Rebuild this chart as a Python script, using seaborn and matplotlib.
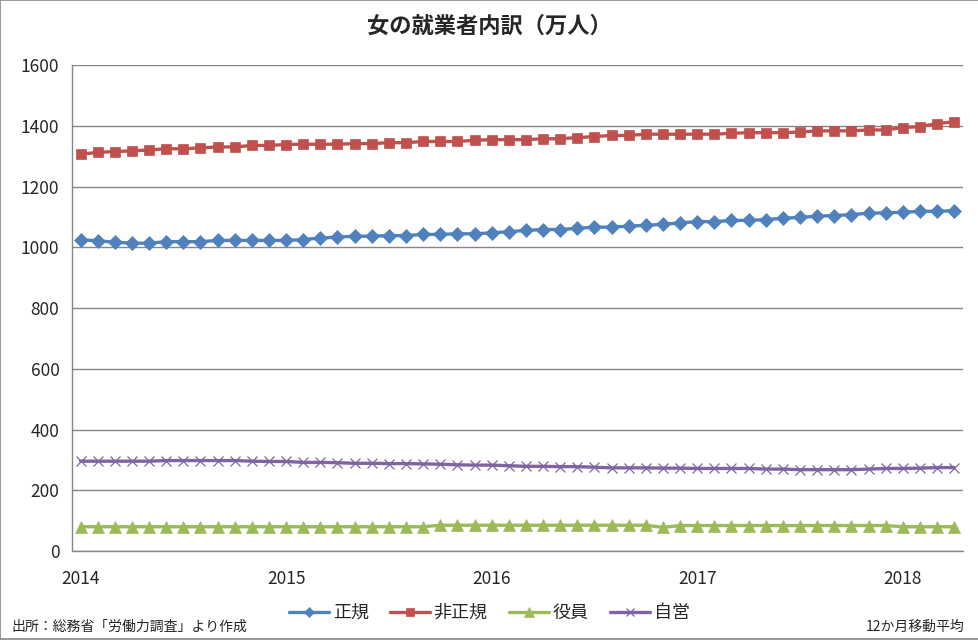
import matplotlib
matplotlib.use("Agg")
import matplotlib.pyplot as plt
import numpy as np
import pandas as pd
import seaborn as sns
from matplotlib.patches import Rectangle

sns.set_style("white")
plt.rcParams["font.family"] = ["Noto Sans CJK JP", "DejaVu Sans"]

# 2014年1月〜2018年4月 (月次, 12か月移動平均)
months = pd.date_range("2014-01", "2018-04", freq="MS")
year_labels = ["2014", "2015", "2016", "2017", "2018"]

seiki = [1025, 1022, 1017, 1014, 1014, 1019, 1019, 1019, 1023, 1023,
         1023, 1023, 1023, 1026, 1031, 1034, 1037, 1037, 1039, 1039,
         1043, 1043, 1045, 1045, 1048, 1052, 1056, 1059, 1059, 1063,
         1067, 1067, 1070, 1073, 1076, 1081, 1085, 1085, 1089, 1089,
         1092, 1096, 1099, 1103, 1105, 1108, 1113, 1114, 1116, 1119,
         1119, 1121]
hiseiki = [1307, 1313, 1316, 1318, 1321, 1325, 1325, 1328, 1331, 1331,
           1336, 1336, 1339, 1340, 1340, 1340, 1342, 1342, 1345, 1345,
           1349, 1349, 1349, 1353, 1355, 1355, 1355, 1358, 1358, 1362,
           1365, 1369, 1369, 1373, 1373, 1373, 1373, 1373, 1376, 1378,
           1378, 1378, 1380, 1384, 1384, 1384, 1387, 1387, 1395, 1398,
           1408, 1414]
yakuin = [80, 80, 80, 80, 80, 80, 80, 80, 80, 80,
          80, 80, 80, 80, 80, 80, 80, 80, 80, 80,
          80, 85, 85, 85, 85, 85, 85, 85, 85, 85,
          85, 85, 85, 85, 78, 84, 84, 84, 84, 84,
          84, 84, 84, 84, 84, 84, 84, 84, 80, 80,
          80, 80]
jiei = [296, 296, 296, 296, 296, 298, 298, 298, 298, 298,
        296, 295, 295, 292, 292, 291, 289, 289, 288, 288,
        287, 286, 284, 283, 283, 281, 279, 279, 278, 278,
        276, 274, 274, 274, 273, 273, 272, 272, 272, 272,
        270, 270, 268, 268, 268, 268, 270, 272, 272, 273,
        275, 275]

series = [
    ("正規", seiki, "#4F81BD", "D", 7),
    ("非正規", hiseiki, "#C0504D", "s", 7.5),
    ("役員", yakuin, "#9BBB59", "^", 9),
    ("自営", jiei, "#8064A2", "x", 7.5),
]

# カテゴリ軸: 各月をセルの中央に置く
pos = np.arange(len(months)) + 0.5

fig = plt.figure(figsize=(9.79, 6.4), dpi=100)
ax = fig.add_axes([0.0735, 0.139, 0.9099, 0.759])

for name, vals, color, mk, ms in series:
    sns.lineplot(x=pos, y=vals, ax=ax, color=color, linewidth=2.4,
                 marker=mk, markersize=ms, markeredgecolor=color,
                 markeredgewidth=0.9 if mk == "x" else 0.5,
                 label=name, legend=False)

ax.set_xlim(0, len(months))
ax.set_ylim(0, 1600)
ax.set_yticks(np.arange(0, 1601, 200))
ax.grid(axis="y", color="#868686", linewidth=1)
ax.set_axisbelow(True)

# 年の区切り目盛と年ラベル
ax.set_xticks(np.arange(0, len(months), 12))
ax.set_xticklabels([])
ax.set_xticks(np.arange(0, len(months), 12) + 0.5, minor=True)
ax.set_xticklabels(year_labels, minor=True)
ax.tick_params(axis="x", which="major", length=6, color="#868686", direction="out")
ax.tick_params(axis="x", which="minor", length=0, pad=14, labelsize=12.5)
ax.tick_params(axis="y", length=4, color="#868686", labelsize=12.5, pad=5)

for side in ["top", "right"]:
    ax.spines[side].set_visible(False)
for side in ["left", "bottom"]:
    ax.spines[side].set_color("#868686")
    ax.spines[side].set_linewidth(1)

fig.suptitle("女の就業者内訳（万人）", y=0.977, fontsize=16, fontweight="bold")

handles, labels = ax.get_legend_handles_labels()
fig.legend(handles, labels, loc="center", bbox_to_anchor=(0.5, 0.042), ncol=4,
           frameon=False, fontsize=13, handlelength=2.2, handletextpad=0.2,
           columnspacing=1.2, markerscale=0.8)

fig.text(0.012, 0.02, "出所：総務省「労働力調査」より作成", fontsize=10, va="center")
fig.text(0.985, 0.02, "12か月移動平均", fontsize=10, va="center", ha="right")

fig.patches.append(Rectangle((0.0005, 0.0008), 0.999, 0.9985, transform=fig.transFigure,
                             fill=False, edgecolor="#868686", linewidth=1.2))

fig.savefig("out.png", dpi=100)
